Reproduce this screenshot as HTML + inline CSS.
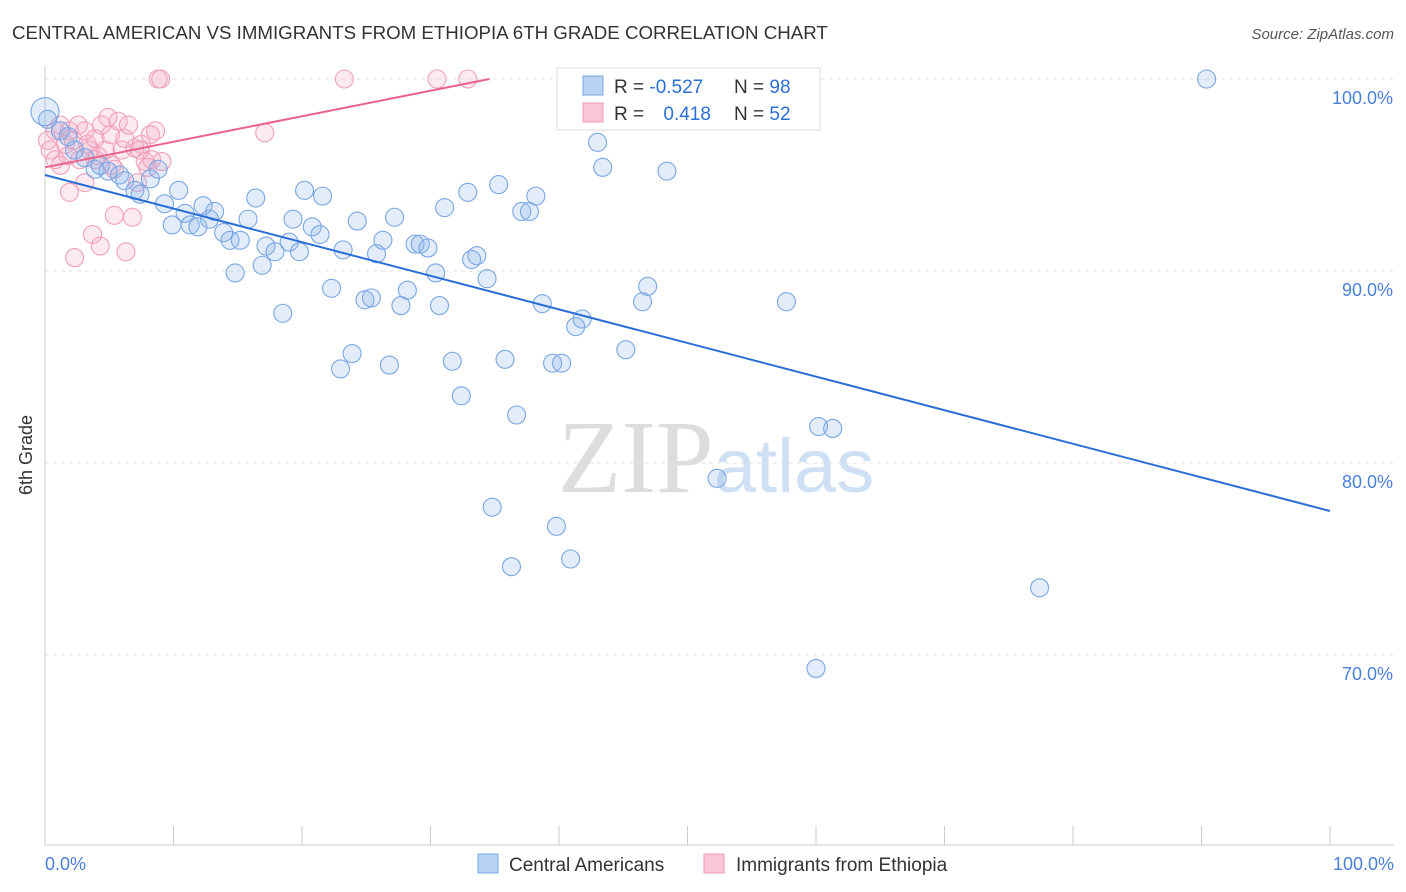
<!DOCTYPE html>
<html><head><meta charset="utf-8"><style>
body{margin:0;background:#fff;font-family:"Liberation Sans",sans-serif;}
#wrap{position:relative;width:1406px;height:892px;overflow:hidden;}
</style></head><body>
<div id="wrap">
<svg id="svg" width="1406" height="892" xmlns="http://www.w3.org/2000/svg">
<text x="12" y="39" font-size="18.7" fill="#333">CENTRAL AMERICAN VS IMMIGRANTS FROM ETHIOPIA 6TH GRADE CORRELATION CHART</text>
<text x="1394" y="39" font-size="15" fill="#555" text-anchor="end" font-style="italic">Source: ZipAtlas.com</text>
<text x="32" y="455" font-size="18" fill="#333" text-anchor="middle" transform="rotate(-90 32 455)">6th Grade</text>
<g id="grid"></g>
<text x="716" y="492" font-size="104" fill="#ddd" text-anchor="middle" font-family="Liberation Serif,serif">ZIP<tspan fill="#cfe0f4" font-family="Liberation Sans,sans-serif" font-size="76">atlas</tspan></text>
<g id="pts"></g>
<g id="lines"></g>
<g>
<rect x="557" y="68" width="263" height="62" fill="#fff" stroke="#ddd"/>
<rect x="583" y="76" width="20" height="19" fill="#b9d3f4" stroke="#7aa6e3"/>
<rect x="583" y="103" width="20" height="19" fill="#f8c6d6" stroke="#ee9ab5"/>
<text x="614" y="93" font-size="19" fill="#333">R = <tspan fill="#2a6fd6">-0.527</tspan></text>
<text x="734" y="93" font-size="19" fill="#333">N = <tspan fill="#2a6fd6">98</tspan></text>
<text x="614" y="120" font-size="19" fill="#333">R = <tspan fill="#2a6fd6" dx="14">0.418</tspan></text>
<text x="734" y="120" font-size="19" fill="#333">N = <tspan fill="#2a6fd6">52</tspan></text>
</g>
<g>
<rect x="478" y="854" width="20" height="19" fill="#b9d3f4" stroke="#7aa6e3"/>
<text x="509" y="871" font-size="19" fill="#333">Central Americans</text>
<rect x="704" y="854" width="20" height="19" fill="#f8c6d6" stroke="#ee9ab5"/>
<text x="736" y="871" font-size="19" fill="#333">Immigrants from Ethiopia</text>
</g>
<text x="45" y="870" font-size="18" fill="#4a80d8">0.0%</text>
<text x="1394" y="870" font-size="18" fill="#4a80d8" text-anchor="end">100.0%</text>
</svg>
</div>
<script>
const yTicks=[100,90,80,70];
const yTickLabels=["100.0%","90.0%","80.0%","70.0%"];
const blueX=[0,0.2,1.2,1.8,2.3,3.1,3.9,4.3,4.9,5.8,6.2,7.0,7.4,8.2,8.8,9.3,9.9,10.4,10.9,11.3,11.9,12.3,12.8,13.2,13.9,14.4,14.8,15.2,15.8,16.4,16.9,17.2,17.9,18.5,19.0,19.3,19.8,20.2,20.8,21.4,21.6,22.3,23.0,23.2,23.9,24.3,24.9,25.4,25.8,26.3,26.8,27.2,27.7,28.2,28.8,29.2,29.8,30.4,30.7,31.1,31.7,32.4,32.9,33.2,33.6,34.4,34.8,35.3,35.8,36.3,36.7,37.1,37.7,38.2,38.7,39.5,39.8,40.2,40.9,41.3,41.8,43.0,43.4,45.2,46.5,46.9,48.4,52.3,57.7,60.0,60.2,61.3,77.4,90.4];
const blueY=[98.3,97.9,97.3,97.0,96.3,95.9,95.3,95.5,95.2,95.0,94.7,94.2,94.0,94.8,95.3,93.5,92.4,94.2,93.0,92.4,92.3,93.4,92.7,93.1,92.0,91.6,89.9,91.6,92.7,93.8,90.3,91.3,91.0,87.8,91.5,92.7,91.0,94.2,92.3,91.9,93.9,89.1,84.9,91.1,85.7,92.6,88.5,88.6,90.9,91.6,85.1,92.8,88.2,89.0,91.4,91.4,91.2,89.9,88.2,93.3,85.3,83.5,94.1,90.6,90.8,89.6,77.7,94.5,85.4,74.6,82.5,93.1,93.1,93.9,88.3,85.2,76.7,85.2,75.0,87.1,87.5,96.7,95.4,85.9,88.4,89.2,95.2,79.2,88.4,69.3,81.9,81.8,73.5,100.0];
const pinkX=[0.2,0.4,0.8,1.2,1.6,1.8,1.9,2.2,2.3,2.6,2.7,3.1,3.3,3.5,3.7,3.9,4.1,4.3,4.4,4.7,4.9,5.2,5.4,5.7,6.0,6.2,6.3,6.5,6.8,7.0,7.2,7.5,7.8,8.0,8.3,8.6,8.8,9.0,9.1,17.1,23.3,30.5,32.9,1.2,3.1,5.4,1.9,3.9,7.4,8.2,0.8,5.1];
const pinkY=[96.8,96.3,97.3,97.6,96.6,96.0,94.1,96.8,90.7,97.6,95.8,94.6,96.6,96.3,91.9,96.9,96.0,91.3,97.6,96.3,98.0,95.5,92.9,97.8,96.3,96.9,91.0,97.6,92.8,96.4,94.6,96.6,95.7,95.4,95.8,97.3,100,100,95.7,97.2,100,100,100,95.5,97.3,95.3,97.3,95.8,96.3,97.1,95.8,97.1];
const blueTrendX=[0,100];
const blueTrendY=[95.0,77.5];
const pinkTrendX=[0,34.6];
const pinkTrendY=[95.4,100];
const NS="http://www.w3.org/2000/svg";
const X0=45,X1=1330,YTOP=79,PX10=19.2,YBOT=845;
const sx=v=>X0+(X1-X0)*v/100;
const sy=v=>YTOP+(100-v)*PX10;
function mk(tag,attrs,parent){const e=document.createElementNS(NS,tag);for(const k in attrs)e.setAttribute(k,attrs[k]);parent.appendChild(e);return e;}
const grid=document.getElementById('grid');
yTicks.forEach((t,i)=>{
 const l=mk('line',{x1:X0,x2:1394,y1:sy(t),y2:sy(t),stroke:'#e2e2e2','stroke-dasharray':'4,4'},grid);
 
 
 const tx=mk('text',{x:1393,y:sy(t)+25,'font-size':18,fill:'#4a80d8','text-anchor':'end'},grid);
 tx.textContent=yTickLabels[i];
 
 
});
const ax=mk('line',{x1:X0,x2:X0,y1:66,y2:YBOT,stroke:'#ccc'},grid);


const bx=mk('line',{x1:X0,x2:1394,y1:YBOT,y2:YBOT,stroke:'#ccc'},grid);


for(let i=0;i<=10;i++){
 const tk=mk('line',{x1:sx(i*10),x2:sx(i*10),y1:826,y2:YBOT,stroke:'#ccc'},grid);
 
 
}
const pts=document.getElementById('pts');
function draw(xs,ys,fill,stroke,name){
 xs.forEach((x,i)=>{
  const r=(i===0&&name==='blue-point')?14:9;
  const c=mk('circle',{cx:sx(x),cy:sy(ys[i]),r:r,fill:fill,stroke:stroke,'stroke-width':1.1},pts);
  
  
 });
}
draw(pinkX,pinkY,'rgba(244,170,196,0.25)','#f0a0bb','pink-point');
draw(blueX,blueY,'rgba(140,180,235,0.25)','#7aa6e3','blue-point');
const lines=document.getElementById('lines');
const bl=mk('line',{x1:sx(blueTrendX[0]),y1:sy(blueTrendY[0]),x2:sx(blueTrendX[1]),y2:sy(blueTrendY[1]),stroke:'#2a6fd6','stroke-width':2},lines);


const pl=mk('line',{x1:sx(pinkTrendX[0]),y1:sy(pinkTrendY[0]),x2:sx(pinkTrendX[1]),y2:sy(pinkTrendY[1]),stroke:'#e8648e','stroke-width':2},lines);


</script>
</body></html>
